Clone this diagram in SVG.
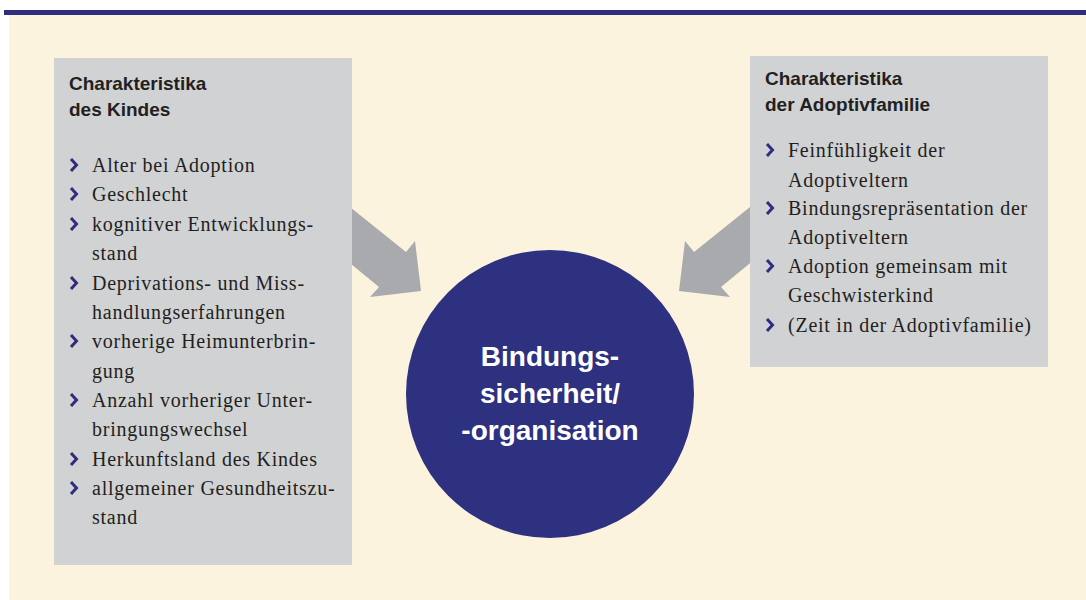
<svg xmlns="http://www.w3.org/2000/svg" xmlns:xlink="http://www.w3.org/1999/xlink" width="1086" height="600" viewBox="0 0 1086 600">
<style>
.title{font-family:"Liberation Sans",Arial,sans-serif;font-weight:bold;font-size:19px;fill:#231f20}
.item{font-family:"Liberation Serif","Times New Roman",serif;font-size:20px;letter-spacing:0.75px;fill:#231f20}
.center{font-family:"Liberation Sans",Arial,sans-serif;font-weight:bold;font-size:28px;fill:#ffffff;text-anchor:middle}
.box{fill:#d1d2d4}
.arrow{fill:#a9aaad}
</style>
<defs>
<path id="chev" d="M0,-6 L5.5,0 L0,6" fill="none" stroke="#2e2d7f" stroke-width="3" stroke-linejoin="miter"/>
</defs>
<rect x="0" y="0" width="1086" height="600" fill="#ffffff"/>
<rect x="9" y="15" width="1077" height="585" fill="#fcf3df"/>
<rect x="4" y="10" width="1082" height="5" fill="#2e2d7f"/>
<g id="connectors">
<polygon class="arrow" points="340,199 406,252 415,241 421,291 370,297 379,287 340,255"/>
<polygon class="arrow" points="760,199 694,252 685,241 679,291 730,297 721,287 760,255"/>
</g>
<g id="node-kind">
<rect class="box" x="54" y="58" width="298" height="507"/>
<text class="title" x="69" y="90">Charakteristika</text>
<text class="title" x="69" y="116">des Kindes</text>
<use xlink:href="#chev" x="71" y="165"/>
<text class="item" x="92" y="172">Alter bei Adoption</text>
<use xlink:href="#chev" x="71" y="194"/>
<text class="item" x="92" y="201">Geschlecht</text>
<use xlink:href="#chev" x="71" y="224"/>
<text class="item" x="92" y="231">kognitiver Entwicklungs-</text>
<text class="item" x="92" y="260">stand</text>
<use xlink:href="#chev" x="71" y="283"/>
<text class="item" x="92" y="290">Deprivations- und Miss-</text>
<text class="item" x="92" y="319">handlungserfahrungen</text>
<use xlink:href="#chev" x="71" y="341"/>
<text class="item" x="92" y="348">vorherige Heimunterbrin-</text>
<text class="item" x="92" y="378">gung</text>
<use xlink:href="#chev" x="71" y="400"/>
<text class="item" x="92" y="407">Anzahl vorheriger Unter-</text>
<text class="item" x="92" y="436">bringungswechsel</text>
<use xlink:href="#chev" x="71" y="459"/>
<text class="item" x="92" y="466">Herkunftsland des Kindes</text>
<use xlink:href="#chev" x="71" y="488"/>
<text class="item" x="92" y="495">allgemeiner Gesundheitszu-</text>
<text class="item" x="92" y="524">stand</text>
</g>
<g id="node-familie">
<rect class="box" x="750" y="56" width="298" height="311"/>
<text class="title" x="765" y="85">Charakteristika</text>
<text class="title" x="765" y="111">der Adoptivfamilie</text>
<use xlink:href="#chev" x="767" y="150"/>
<text class="item" x="788" y="157">Feinfühligkeit der</text>
<text class="item" x="788" y="187">Adoptiveltern</text>
<use xlink:href="#chev" x="767" y="208"/>
<text class="item" x="788" y="215">Bindungsrepräsentation der</text>
<text class="item" x="788" y="244">Adoptiveltern</text>
<use xlink:href="#chev" x="767" y="266"/>
<text class="item" x="788" y="273">Adoption gemeinsam mit</text>
<text class="item" x="788" y="302">Geschwisterkind</text>
<use xlink:href="#chev" x="767" y="325"/>
<text class="item" x="788" y="332">(Zeit in der Adoptivfamilie)</text>
</g>
<g id="node-center">
<circle cx="550" cy="394" r="144" fill="#2e3080"/>
<text class="center" x="550" y="366">Bindungs-</text>
<text class="center" x="550" y="403">sicherheit/</text>
<text class="center" x="550" y="440">-organisation</text>
</g>
</svg>
